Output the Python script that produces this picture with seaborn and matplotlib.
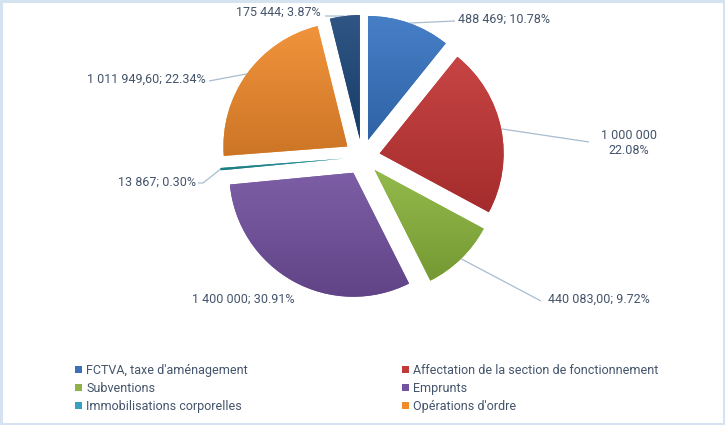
import numpy as np
import matplotlib
matplotlib.use("Agg")
import matplotlib.pyplot as plt
import seaborn as sns
from matplotlib import font_manager
from matplotlib.patches import Patch, Rectangle
import matplotlib.colors as mcolors

# ---------------- data ----------------
categories = ["FCTVA, taxe d'aménagement",
              "Affectation de la section de fonctionnement",
              "Subventions",
              "Emprunts",
              "Immobilisations corporelles",
              "Opérations d'ordre",
              "Autre"]
values = [488469, 1000000, 440083.00, 1400000, 13867, 1011949.60, 175444]
value_labels = ["488 469; 10.78%",
                "1 000 000\n22.08%",
                "440 083,00; 9.72%",
                "1 400 000; 30.91%",
                "13 867; 0.30%",
                "1 011 949,60; 22.34%",
                "175 444; 3.87%"]
in_legend = [True, True, True, True, True, True, False]

# ---------------- style ----------------
colors = ["#3774c2", "#c23434", "#8ab43c", "#71509e", "#1f8f96", "#f08a2c", "#1d477a"]
legend_colors = ["#3b6fb6", "#c0393b", "#8fb34a", "#7253a0", "#35a0c0", "#f08a2a", "#1f4a7d"]
text_color = "#44546a"
leader_color = "#a9bccf"

sns.set_theme(style="white")
avail = {f.name for f in font_manager.fontManager.ttflist}
if "Liberation Sans Narrow" in avail:
    fam, fs = ["Liberation Sans Narrow", "DejaVu Sans"], 10
else:
    fam, fs = ["Roboto", "DejaVu Sans"], 9
plt.rcParams["font.family"] = fam

W, H = 725, 425
fig = plt.figure(figsize=(W / 100, H / 100), dpi=100)
fig.patch.set_facecolor("white")
ax = fig.add_axes([0, 0, 1, 1])
ax.set_axis_off()

def P(x, y):
    """pixel position measured from top-left -> data coords"""
    return (x, H - y)

center = P(362, 157)
radius = 124
explode_px = 18
wedges, _ = ax.pie(values, colors=colors, startangle=90, counterclock=False,
                   explode=[explode_px] * len(values), radius=radius, center=center,
                   wedgeprops=dict(linewidth=0))

def lighten(c, f):
    c = np.array(mcolors.to_rgb(c))
    return c + (1 - c) * f

def darken(c, f):
    c = np.array(mcolors.to_rgb(c))
    return c * (1 - f)

for w, c in zip(wedges, colors):
    ext = w.get_path().get_extents()
    top, bot = lighten(c, 0.08), darken(c, 0.15)
    t = np.linspace(0, 1, 256)[:, None, None]
    grad = bot[None, None, :] * (1 - t) + top[None, None, :] * t
    grad = np.repeat(grad, 2, axis=1)
    im = ax.imshow(grad, extent=[ext.x0, ext.x1, ext.y0, ext.y1], origin="lower",
                   aspect="auto", interpolation="bilinear", zorder=w.get_zorder() + 0.1)
    im.set_clip_path(w)

# label layout: leader end points, text pos, alignment
layout = [
    dict(line=[P(455, 21)], text=P(458, 19), ha="left"),
    dict(line=[P(589, 142)], text=P(629, 143), ha="center"),
    dict(line=[P(541, 301)], text=P(548, 299), ha="left"),
    dict(line=[], text=P(243, 299), ha="center"),
    dict(line=[P(203, 183), P(198, 183)], text=P(196, 182), ha="right"),
    dict(line=[P(209, 81)], text=P(206, 79), ha="right"),
    dict(line=[P(325, 16)], text=P(321, 12), ha="right"),
]

for w, lab, lay in zip(wedges, value_labels, layout):
    th = np.deg2rad((w.theta1 + w.theta2) / 2)
    cx, cy = w.center
    start = (cx + w.r * np.cos(th), cy + w.r * np.sin(th))
    if lay["line"]:
        pts = [start] + lay["line"]
        ax.plot([p[0] for p in pts], [p[1] for p in pts], color=leader_color,
                lw=0.9, zorder=1, solid_capstyle="butt")
    ax.text(lay["text"][0], lay["text"][1], lab, ha=lay["ha"], va="center",
            multialignment="center", color=text_color, fontsize=fs, linespacing=1.25)

ax.set_xlim(0, W)
ax.set_ylim(0, H)
ax.set_aspect("equal")

# legend (row-wise order in two columns)
handles = [Patch(facecolor=lc, edgecolor="none", label=cat)
           for cat, lc, show in zip(categories, legend_colors, in_legend) if show]
order = [0, 2, 4, 1, 3, 5]
leg = fig.legend([handles[i] for i in order], [handles[i].get_label() for i in order],
                 ncol=2, loc="upper left", bbox_to_anchor=(75 / W, 1 - 364 / H),
                 frameon=False, fontsize=fs, handlelength=0.55, handleheight=0.55,
                 handletextpad=0.35, columnspacing=12.3, labelspacing=0.4,
                 borderaxespad=0, borderpad=0)
for t in leg.get_texts():
    t.set_color(text_color)

# light blue frame around the chart area
fig.patches.append(Rectangle((0.001, 0.002), 0.997, 0.995, transform=fig.transFigure,
                             fill=False, edgecolor="#d5e2ef", lw=2.2))

sns.despine(ax=ax, left=True, bottom=True)
fig.savefig("out.png", dpi=100, facecolor="white")
